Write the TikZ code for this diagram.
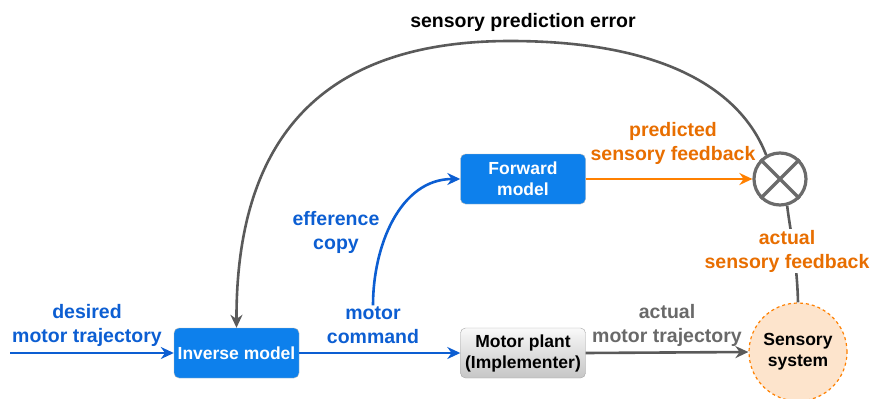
\documentclass[tikz,border=0pt]{standalone}
\usepackage{fontspec}
\setmainfont{Liberation Sans}
\usetikzlibrary{arrows.meta,positioning}
\definecolor{boxblue}{RGB}{13,128,236}
\definecolor{lineblue}{RGB}{12,94,210}
\definecolor{txtorange}{RGB}{232,110,0}
\definecolor{lineorange}{RGB}{255,128,0}
\definecolor{linegray}{RGB}{90,90,90}
\definecolor{txtgray}{RGB}{105,105,105}
\definecolor{peach}{RGB}{253,228,204}
\begin{document}
\begin{tikzpicture}[
  x=1pt, y=-1pt,
  >={Stealth[length=13pt,width=12pt]},
  block/.style={rectangle,rounded corners=5pt,minimum width=125pt,minimum height=50pt,align=center,font=\fontsize{17.5}{21}\selectfont\bfseries},
  bluebox/.style={block,draw=gray!55,fill=boxblue,text=white},
  graybox/.style={block,draw=gray!70,top color=gray!5,bottom color=gray!45,text=black},
  lbl/.style={align=center,font=\fontsize{19.5}{24}\selectfont\bfseries,inner sep=1pt},
  arrow/.style={->,line width=2.6pt}
]
\useasboundingbox (0,0) rectangle (879,399);

% blocks
\node[bluebox] (inv) at (236.5,353) {Inverse model};
\node[bluebox] (fwd) at (523,179) {Forward\\model};
\node[graybox] (plant) at (523,353) {Motor plant\\(Implementer)};
\node[circle,draw=lineorange,dashed,line width=1.2pt,fill=peach,minimum size=98pt,
      align=center,font=\fontsize{17.5}{21}\selectfont\bfseries] (sens) at (798,352) {Sensory\\system};
\node[circle,draw=linegray!90,line width=3.2pt,minimum size=52pt,inner sep=0pt] (cmp) at (780,179) {};
\draw[linegray!90,line width=3.2pt] (cmp.45) -- (cmp.225) (cmp.135) -- (cmp.-45);

% labels
\node[lbl,text=lineblue] (desired) at (87,325) {desired\\motor trajectory};
\node[lbl,text=lineblue] (mcmd) at (373,325) {motor\\command};
\node[lbl,text=lineblue] (effc) at (336,232) {efference\\copy};
\node[lbl,text=txtorange] (pred) at (673,143) {predicted\\sensory feedback};
\node[lbl,text=txtgray] (amt) at (667,325) {actual\\motor trajectory};
\node[lbl] (err) at (523,22) {sensory prediction error};
\coordinate (start) at (10,353);

% connectors
\draw[arrow,lineblue] (start) -- (inv.west);
\draw[arrow,lineblue] (inv.east) -- (plant.west);
\draw[arrow,lineblue] (mcmd.north) to[out=90,in=180] (fwd.west);
\draw[arrow,lineorange] (fwd.east) -- (cmp.west);
\draw[arrow,linegray] (plant.east) -- (sens.west);
\draw[arrow,linegray] (cmp.120) .. controls (745,100) and (680,41) .. (510,41)
  .. controls (330,41) and (236,130) .. (inv.north);
\draw[linegray,line width=2.6pt] (sens.north) .. controls (797,260) and (790,230) .. (cmp.-75);
\node[lbl,text=txtorange,fill=white] (asf) at (787,251) {actual\\sensory feedback};
\end{tikzpicture}
\end{document}
